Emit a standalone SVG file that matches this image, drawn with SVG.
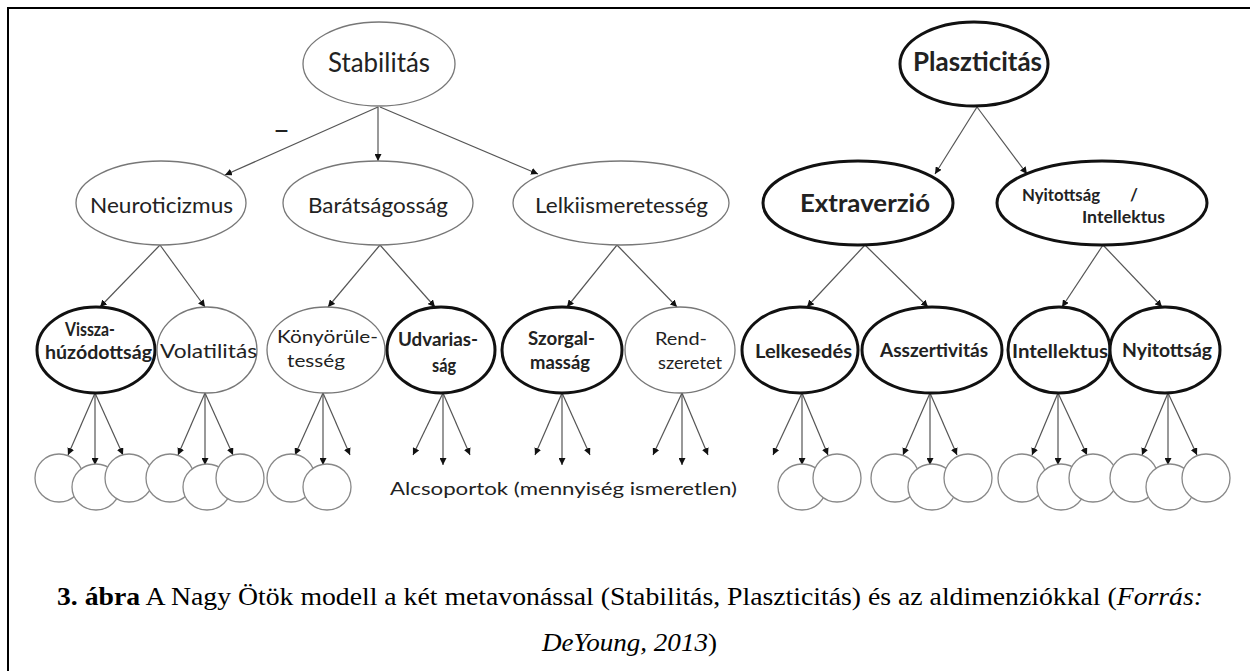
<svg xmlns="http://www.w3.org/2000/svg" width="1250" height="671" viewBox="0 0 1250 671">
<defs>
<style>
.thin{fill:#fff;stroke:#777;stroke-width:1.3}
.thick{fill:#fff;stroke:#111;stroke-width:3}
.sub{fill:#fff;stroke:#888;stroke-width:1.3}
.lbl{font-family:Lato,"Open Sans",sans-serif;fill:#222}
.b{font-weight:bold}
.conn line{stroke:#555;stroke-width:1.2;marker-end:url(#ah)}
.cap{font-family:"Liberation Serif",serif;font-size:25px;fill:#000}
</style>
<marker id="ah" viewBox="0 0 10 10" refX="10" refY="5" markerWidth="7" markerHeight="7" markerUnits="userSpaceOnUse" orient="auto">
<path d="M0,0 L10,5 L0,10 Z" fill="#111"/>
</marker>
</defs>
<rect x="0" y="0" width="1250" height="671" fill="#fff"/>
<rect x="8" y="8" width="1260" height="700" fill="none" stroke="#000" stroke-width="2"/>

<g id="connectors" class="conn">
<line x1="378" y1="107" x2="225" y2="175"/>
<line x1="378" y1="107" x2="378" y2="161"/>
<line x1="380" y1="107" x2="538" y2="174"/>
<line x1="977" y1="107" x2="935" y2="174"/>
<line x1="977" y1="107" x2="1027" y2="174"/>
<line x1="160" y1="245" x2="100" y2="307"/>
<line x1="160" y1="245" x2="205" y2="307"/>
<line x1="380" y1="245" x2="328" y2="307"/>
<line x1="380" y1="245" x2="435" y2="307"/>
<line x1="617" y1="245" x2="567" y2="307"/>
<line x1="617" y1="245" x2="677" y2="307"/>
<line x1="865" y1="245" x2="807" y2="307"/>
<line x1="865" y1="245" x2="928" y2="307"/>
<line x1="1103" y1="245" x2="1062" y2="307"/>
<line x1="1103" y1="245" x2="1162" y2="307"/>
<line x1="95" y1="393" x2="68" y2="455"/><line x1="95" y1="393" x2="95" y2="465"/><line x1="95" y1="393" x2="123" y2="455"/>
<line x1="205" y1="393" x2="178" y2="455"/><line x1="205" y1="393" x2="205" y2="465"/><line x1="205" y1="393" x2="233" y2="455"/>
<line x1="323" y1="393" x2="295" y2="455"/><line x1="323" y1="393" x2="323" y2="465"/><line x1="323" y1="393" x2="350" y2="455"/>
<line x1="443" y1="393" x2="413" y2="455"/><line x1="443" y1="393" x2="443" y2="465"/><line x1="443" y1="393" x2="470" y2="455"/>
<line x1="562" y1="393" x2="535" y2="455"/><line x1="562" y1="393" x2="562" y2="465"/><line x1="562" y1="393" x2="590" y2="455"/>
<line x1="682" y1="393" x2="653" y2="455"/><line x1="682" y1="393" x2="682" y2="465"/><line x1="682" y1="393" x2="708" y2="455"/>
<line x1="802" y1="393" x2="773" y2="455"/><line x1="802" y1="393" x2="802" y2="465"/><line x1="802" y1="393" x2="828" y2="455"/>
<line x1="930" y1="393" x2="903" y2="455"/><line x1="930" y1="393" x2="930" y2="465"/><line x1="930" y1="393" x2="957" y2="455"/>
<line x1="1058" y1="393" x2="1032" y2="455"/><line x1="1058" y1="393" x2="1058" y2="465"/><line x1="1058" y1="393" x2="1087" y2="455"/>
<line x1="1168" y1="393" x2="1142" y2="455"/><line x1="1168" y1="393" x2="1168" y2="465"/><line x1="1168" y1="393" x2="1197" y2="455"/>
</g>
<text class="lbl" x="273" y="140" font-size="28" textLength="17" lengthAdjust="spacingAndGlyphs">–</text>

<g id="stabilitas"><ellipse class="thin" cx="379" cy="64" rx="76" ry="42"/><text class="lbl" x="328" y="72" font-size="26" textLength="102" lengthAdjust="spacingAndGlyphs">Stabilitás</text></g>
<g id="plaszticitas"><ellipse class="thick" cx="974" cy="64" rx="74" ry="42"/><text class="lbl b" x="913" y="71" font-size="26" textLength="129" lengthAdjust="spacingAndGlyphs">Plaszticitás</text></g>

<g id="neuroticizmus"><ellipse class="thin" cx="161" cy="203" rx="85" ry="42"/><text class="lbl" x="90" y="213" font-size="22" textLength="143" lengthAdjust="spacingAndGlyphs">Neuroticizmus</text></g>
<g id="baratsagossag"><ellipse class="thin" cx="378" cy="203" rx="95" ry="42"/><text class="lbl" x="308" y="213" font-size="22" textLength="140" lengthAdjust="spacingAndGlyphs">Barátságosság</text></g>
<g id="lelkiismeretesseg"><ellipse class="thin" cx="621" cy="203" rx="108" ry="42"/><text class="lbl" x="535" y="213" font-size="22" textLength="173" lengthAdjust="spacingAndGlyphs">Lelkiismeretesség</text></g>
<g id="extraverzio"><ellipse class="thick" cx="858" cy="203" rx="95" ry="42"/><text class="lbl b" x="800" y="212" font-size="24" textLength="130" lengthAdjust="spacingAndGlyphs">Extraverzió</text></g>
<g id="nyitottsag-intellektus"><ellipse class="thick" cx="1102" cy="203" rx="105" ry="42"/><text class="lbl b" font-size="17"><tspan x="1022" y="201" textLength="78" lengthAdjust="spacingAndGlyphs">Nyitottság</tspan><tspan x="1130" y="201">/</tspan><tspan x="1082" y="223" textLength="83" lengthAdjust="spacingAndGlyphs">Intellektus</tspan></text></g>

<g id="visszahuzodottsag"><ellipse class="thick" cx="96" cy="350" rx="59" ry="43"/><text class="lbl b" font-size="18"><tspan x="65" y="336" textLength="50" lengthAdjust="spacingAndGlyphs">Vissza-</tspan><tspan x="45" y="359" textLength="107" lengthAdjust="spacingAndGlyphs">húzódottság</tspan></text></g>
<g id="volatilitas"><ellipse class="thin" cx="207" cy="350" rx="50" ry="43"/><text class="lbl" x="160" y="358" font-size="20" textLength="97" lengthAdjust="spacingAndGlyphs">Volatilitás</text></g>
<g id="konyoruletesseg"><ellipse class="thin" cx="326" cy="350" rx="59" ry="43"/><text class="lbl" font-size="18"><tspan x="277" y="343" textLength="101" lengthAdjust="spacingAndGlyphs">Könyörüle-</tspan><tspan x="287" y="367" textLength="58" lengthAdjust="spacingAndGlyphs">tesség</tspan></text></g>
<g id="udvariassag"><ellipse class="thick" cx="441" cy="350" rx="54" ry="43"/><text class="lbl b" font-size="18"><tspan x="398" y="346" textLength="80" lengthAdjust="spacingAndGlyphs">Udvarias-</tspan><tspan x="432" y="372" textLength="24" lengthAdjust="spacingAndGlyphs">ság</tspan></text></g>
<g id="szorgalmassag"><ellipse class="thick" cx="562" cy="350" rx="60" ry="43"/><text class="lbl b" font-size="18"><tspan x="528" y="345" textLength="67" lengthAdjust="spacingAndGlyphs">Szorgal-</tspan><tspan x="530" y="369" textLength="60" lengthAdjust="spacingAndGlyphs">masság</tspan></text></g>
<g id="rendszeretet"><ellipse class="thin" cx="680" cy="350" rx="55" ry="43"/><text class="lbl" font-size="18"><tspan x="655" y="345" textLength="52" lengthAdjust="spacingAndGlyphs">Rend-</tspan><tspan x="658" y="369" textLength="64" lengthAdjust="spacingAndGlyphs">szeretet</tspan></text></g>
<g id="lelkesedes"><ellipse class="thick" cx="800" cy="350" rx="58" ry="43"/><text class="lbl b" x="755" y="358" font-size="19" textLength="97" lengthAdjust="spacingAndGlyphs">Lelkesedés</text></g>
<g id="asszertivitas"><ellipse class="thick" cx="932" cy="350" rx="70" ry="43"/><text class="lbl b" x="880" y="357" font-size="19" textLength="108" lengthAdjust="spacingAndGlyphs">Asszertivitás</text></g>
<g id="intellektus"><ellipse class="thick" cx="1059" cy="350" rx="51" ry="43"/><text class="lbl b" x="1012" y="358" font-size="19" textLength="96" lengthAdjust="spacingAndGlyphs">Intellektus</text></g>
<g id="nyitottsag"><ellipse class="thick" cx="1165" cy="350" rx="55" ry="43"/><text class="lbl b" x="1122" y="357" font-size="19" textLength="90" lengthAdjust="spacingAndGlyphs">Nyitottság</text></g>

<g id="alcsoportok">
<ellipse class="sub" cx="59" cy="478" rx="24" ry="24"/><ellipse class="sub" cx="96" cy="487" rx="24" ry="23"/><ellipse class="sub" cx="129" cy="478" rx="24" ry="24"/>
<ellipse class="sub" cx="170" cy="478" rx="24" ry="24"/><ellipse class="sub" cx="207" cy="487" rx="24" ry="23"/><ellipse class="sub" cx="240" cy="478" rx="24" ry="24"/>
<ellipse class="sub" cx="291" cy="478" rx="24" ry="24"/><ellipse class="sub" cx="327" cy="487" rx="24" ry="23"/>
<ellipse class="sub" cx="802" cy="487" rx="24" ry="23"/><ellipse class="sub" cx="837" cy="478" rx="24" ry="24"/>
<ellipse class="sub" cx="895" cy="478" rx="24" ry="24"/><ellipse class="sub" cx="932" cy="487" rx="24" ry="23"/><ellipse class="sub" cx="968" cy="478" rx="24" ry="24"/>
<ellipse class="sub" cx="1022" cy="478" rx="24" ry="24"/><ellipse class="sub" cx="1061" cy="487" rx="24" ry="23"/><ellipse class="sub" cx="1093" cy="478" rx="24" ry="24"/>
<ellipse class="sub" cx="1134" cy="478" rx="24" ry="24"/><ellipse class="sub" cx="1170" cy="487" rx="24" ry="23"/><ellipse class="sub" cx="1206" cy="478" rx="24" ry="24"/>
<text class="lbl" x="390" y="495" font-size="18" textLength="347" lengthAdjust="spacingAndGlyphs">Alcsoportok (mennyiség ismeretlen)</text>
</g>

<g id="caption">
<text class="cap" x="57" y="605" textLength="1146" lengthAdjust="spacingAndGlyphs"><tspan font-weight="bold">3. ábra</tspan> A Nagy Ötök modell a két metavonással (Stabilitás, Plaszticitás) és az aldimenziókkal (<tspan font-style="italic">Forrás:</tspan></text>
<text class="cap" x="542" y="651" textLength="175" lengthAdjust="spacingAndGlyphs"><tspan font-style="italic">DeYoung, 2013</tspan>)</text>
</g>
</svg>
